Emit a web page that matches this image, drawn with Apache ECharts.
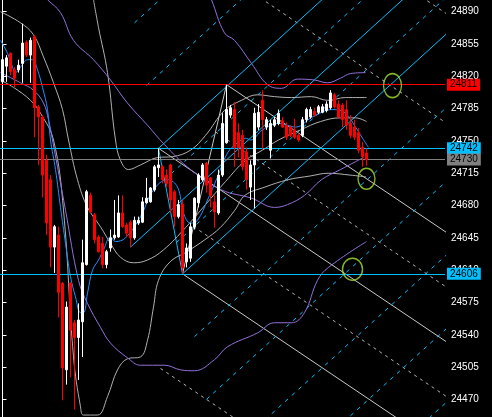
<!DOCTYPE html>
<html><head><meta charset="utf-8">
<script src="https://cdn.jsdelivr.net/npm/echarts@6/dist/echarts.min.js"></script>
<style>html,body{margin:0;padding:0;background:#000;}#c{width:492px;height:417px;}</style>
</head><body><div id="c"></div>
<script>
// candles: [open, close, low, high]
const candles = [
[24814,24838,24813,24846],[24831,24840,24814,24843],[24845,24825,24821,24846],[24827,24818,24808,24830],
[24827,24832,24824,24838],[24834,24856,24813,24877],[24857,24843,24841,24859],[24843,24859,24813,24862],
[24863,24786,24754,24865],[24787,24776,24724,24789],[24776,24713,24689,24778],[24729,24661,24648,24735],
[24708,24635,24613,24713],[24635,24657,24607,24659],[24648,24586,24559,24657],[24596,24504,24469,24597],
[24502,24570,24486,24576],[24596,24545,24494,24597],[24553,24537,24459,24556],[24537,24556,24491,24574],
[24554,24618,24516,24643],[24616,24695,24615,24697],[24691,24673,24672,24694],[24670,24643,24639,24672],
[24646,24630,24629,24648],[24639,24616,24612,24646],[24616,24630,24612,24632],[24634,24645,24630,24654],
[24645,24648,24643,24686],[24646,24672,24645,24691],[24672,24657,24656,24691],[24659,24650,24646,24661],
[24662,24645,24635,24664],[24645,24664,24643,24668],[24661,24664,24659,24668],[24662,24684,24661,24689],
[24683,24688,24682,24710],[24684,24699,24683,24700],[24697,24722,24695,24724],[24721,24724,24711,24742],
[24722,24708,24704,24724],[24713,24704,24700,24719],[24724,24686,24672,24725],[24695,24668,24657,24697],
[24668,24681,24666,24686],[24681,24613,24606,24686],[24619,24634,24613,24639],[24623,24657,24619,24661],
[24657,24688,24654,24689],[24683,24713,24678,24715],[24708,24724,24706,24726],[24726,24702,24694,24727],
[24710,24691,24678,24711],[24684,24673,24656,24691],[24672,24713,24670,24719],[24713,24769,24711,24780],
[24748,24784,24747,24811],[24778,24786,24775,24789],[24784,24743,24722,24792],[24759,24743,24732,24769],
[24756,24722,24718,24762],[24738,24708,24697,24743],[24700,24724,24686,24729],[24724,24780,24677,24786],
[24765,24781,24762,24790],[24794,24773,24740,24805],[24765,24773,24762,24776],[24740,24769,24731,24773],
[24767,24773,24765,24776],[24769,24780,24767,24784],[24772,24765,24764,24776],[24767,24754,24751,24770],
[24765,24756,24754,24767],[24762,24754,24752,24774],[24756,24751,24749,24759],[24756,24773,24754,24776],
[24773,24784,24770,24786],[24776,24784,24774,24787],[24782,24778,24776,24786],[24781,24787,24779,24789],
[24781,24787,24780,24790],[24783,24790,24781,24793],[24786,24802,24784,24805],[24800,24787,24785,24802],
[24790,24776,24774,24794],[24789,24773,24765,24791],[24784,24767,24762,24794],[24769,24756,24753,24778],
[24765,24754,24751,24773],[24759,24740,24737,24764],[24743,24733,24722,24749],[24737,24730,24723,24742]
];
const yTicks = [24470,24505,24540,24575,24610,24645,24680,24715,24750,24785,24820,24855,24890];
const priceTags = [
  {value:24811, line:'#FF0000', bg:'#FF0000', text:'#000000'},
  {value:24742, line:'#00BFFF', bg:'#00BFFF', text:'#000000'},
  {value:24730, line:'#808080', bg:'#808080', text:'#000000'},
  {value:24606, line:'#00BFFF', bg:'#00BFFF', text:'#000000'}
];
// curves [barIndex, price]
const blueMA = [[-0.5,24859],[1.25,24845],[2.5,24830],[3.25,24824],[4.5,24830],[6.25,24838],[7.5,24838],[8.75,24827],[10,24808],[11.25,24784],[12,24751],[13.25,24719],[14.5,24678],[15.75,24639],[17,24603],[18.25,24581],[19.5,24564],[20.25,24564],[21.25,24585],[22.5,24610],[24,24621],[25.25,24632],[27,24646],[28.25,24641],[30.75,24645],[34.5,24668],[37.75,24697],[41.25,24708],[43.75,24700],[45.25,24672],[47,24661],[48.75,24664],[51.25,24686],[53.75,24711],[56.25,24737],[58.75,24748],[60.75,24753],[62,24751],[65,24762],[69,24769],[73.25,24765],[77.5,24776],[82.5,24784],[85.75,24780],[88.25,24765],[90,24753],[91.5,24743]];
const purpleMid = [[9.5,24911],[11.25,24903],[14.5,24889],[17.75,24859],[22.75,24838],[27,24816],[31.25,24791],[36.25,24767],[40.5,24746],[47,24719],[54.75,24697],[62.25,24688],[68,24678],[71.25,24681],[75.5,24691],[79.75,24708],[84.5,24719],[90.25,24732]];
const purpleUp = [[50.75,24919],[52.25,24903],[55.5,24867],[58,24859],[62.25,24834],[66.25,24811],[69.75,24807],[73.75,24817],[78,24816],[81.25,24813],[84.5,24818],[87,24823],[90.75,24824]];
const purpleLow = [[-0.5,24824],[4.5,24813],[7.75,24805],[10.25,24791],[11.5,24773],[12.5,24751],[15.75,24675],[19,24599],[21.25,24574],[24.5,24548],[27,24531],[31.25,24515],[34.5,24507],[40.5,24507],[44.5,24502],[48,24501],[53,24513],[56.25,24527],[63.75,24542],[68,24553],[72.25,24553],[75.5,24564],[78.75,24599],[81.5,24613],[91,24641]];
const greyMid = [[-0.5,24890],[4.5,24878],[7.75,24865],[10.25,24841],[12.75,24813],[15,24784],[16.5,24751],[18.75,24708],[21.25,24678],[24.5,24657],[27,24639],[29.5,24624],[32.75,24618],[36.25,24621],[40.25,24632],[45.75,24656],[50.75,24681],[55.75,24706],[60.75,24729],[65,24740],[69,24751],[74.5,24762],[79.5,24771],[84.5,24775],[88.25,24775],[91,24771]];
const greyUp = [[22.75,24903],[24,24873],[26.25,24824],[28.25,24751],[29.5,24729],[31.5,24719],[34.5,24724],[38.75,24732],[42.5,24733],[47,24740],[50.75,24756],[55.5,24783],[59.75,24794],[63.75,24800],[68,24798],[72.25,24797],[77.25,24798],[81.25,24794],[85.75,24797],[91,24797]];
const greyLow = [[-0.5,24816],[2.75,24808],[7,24794],[9.5,24780],[12.75,24751],[15.25,24675],[17.75,24516],[19.5,24462],[20.25,24453],[23.75,24453],[26.25,24473],[28.75,24502],[31.25,24514],[34.5,24516],[36.25,24534],[37.75,24570],[39,24599],[41.9,24619],[46.1,24630],[50.6,24643],[54.4,24656],[58.1,24675],[60.6,24691],[65.6,24700],[71.4,24708],[76.9,24712],[81.4,24715],[86.9,24713],[90.9,24711]];
// pitchfork pivots and lines, [barIndex, price]
const forkSolid = [
  [[39,24742],[112,24529.4]],
  [[56,24811],[112,24647.9]],
  [[45,24606],[112,24410.8]],
  [[45,24606],[56,24811]]
];
const forkDashed = [
  [[61.5,24913.5],[112,24766.4]],
  [[67,25016],[112,24884.9]],
  [[53.25,24759.75],[112,24588.6]],
  [[47.75,24657.25],[112,24470.1]],
  [[39.5,24503.5],[112,24292.3]]
];
const chanSolid = [
  [[39,24742],[112,25029.6]],
  [[32,24635],[112,24950.2]],
  [[45,24606],[112,24870.0]],
  [[39,24742],[45,24606]]
];
const chanDashed = [
  [[33,24878],[112,25189.3]],
  [[36,24810],[112,25109.4]],
  [[40.5,24708],[112,24989.7]],
  [[43.5,24640],[112,24909.9]],
  [[48,24538],[112,24790.2]],
  [[51,24470],[112,24710.3]],
  [[54,24402],[112,24630.5]],
  [[57,24334],[112,24550.7]],
  [[60,24266],[112,24470.9]]
];
const ellipses = [[97.5,24810,18,24],[91,24709,17,21],[87.5,24611,20,22]];

const chart = echarts.init(document.getElementById('c'), null, {renderer:'canvas'});
const series = [];
function addLine(pts, color, dash, z, smooth){
  series.push({type:'line', data:pts, symbol:'none', silent:true, clip:true, smooth:smooth||false, z:z,
    lineStyle:{color:color, width:1, type: dash ? dash : 'solid'}});
}
forkSolid.forEach(s=>addLine(s,'#C8C8C8',null,2));
forkDashed.forEach(s=>addLine(s,'#B4B4B4',[3,4],2));
chanSolid.forEach(s=>addLine(s,'#00BFFF',null,2));
chanDashed.forEach(s=>addLine(s,'#00BFFF',[4,5],2));
addLine(greyMid,'#B0B0B0',null,3,0.4);
addLine(greyUp,'#B0B0B0',null,3,0.4);
addLine(greyLow,'#B0B0B0',null,3,0.4);
addLine(purpleMid,'#9370DB',null,3,0.4);
addLine(purpleUp,'#9370DB',null,3,0.4);
addLine(purpleLow,'#9370DB',null,3,0.4);
addLine(blueMA,'#1E90FF',null,4,0.4);
series.push({type:'candlestick', data:candles.map((c,i)=>[i,c[0],c[1],c[2],c[3]]),
  encode:{x:0,y:[1,2,3,4]}, barWidth:3, z:5, silent:true,
  itemStyle:{color:'#FFFFFF',color0:'#FF0000',borderColor:'#FFFFFF',borderColor0:'#FF0000',borderWidth:1},
  markLine:{silent:true, symbol:'none', animation:false,
    data: priceTags.map(t=>({yAxis:t.value,
      lineStyle:{color:t.line,width:1,type:'solid'},
      label:{show:true,position:'end',distance:2,formatter:String(t.value),color:t.text,backgroundColor:t.bg,
        fontFamily:'Liberation Sans',fontSize:10,padding:[1,3,0,3],lineHeight:11}}))}
});
series.push({type:'scatter', data:ellipses.map(e=>[e[0],e[1]]), symbol:'circle',
  symbolSize:(v,p)=>[ellipses[p.dataIndex][2],ellipses[p.dataIndex][3]], z:6, silent:true,
  itemStyle:{color:'rgba(0,0,0,0)',borderColor:'#A6E22E',borderWidth:1.5}});

chart.setOption({
  backgroundColor:'#000000', animation:false,
  grid:{left:0,right:47,top:0,bottom:0},
  xAxis:{type:'value',min:-0.625,max:110.625,show:false},
  yAxis:{type:'value',position:'right',min:24450.9,max:24902.7,scale:true,
    splitLine:{show:false},
    axisLine:{show:true,lineStyle:{color:'#FFFFFF',width:1}},
    axisTick:{show:true,inside:false,length:4,lineStyle:{color:'#FFFFFF'},customValues:yTicks},
    axisLabel:{show:true,color:'#FFFFFF',fontFamily:'Liberation Sans',fontSize:10,margin:6,customValues:yTicks,
      formatter:v=>String(v)}},
  series:series
});
</script></body></html>
